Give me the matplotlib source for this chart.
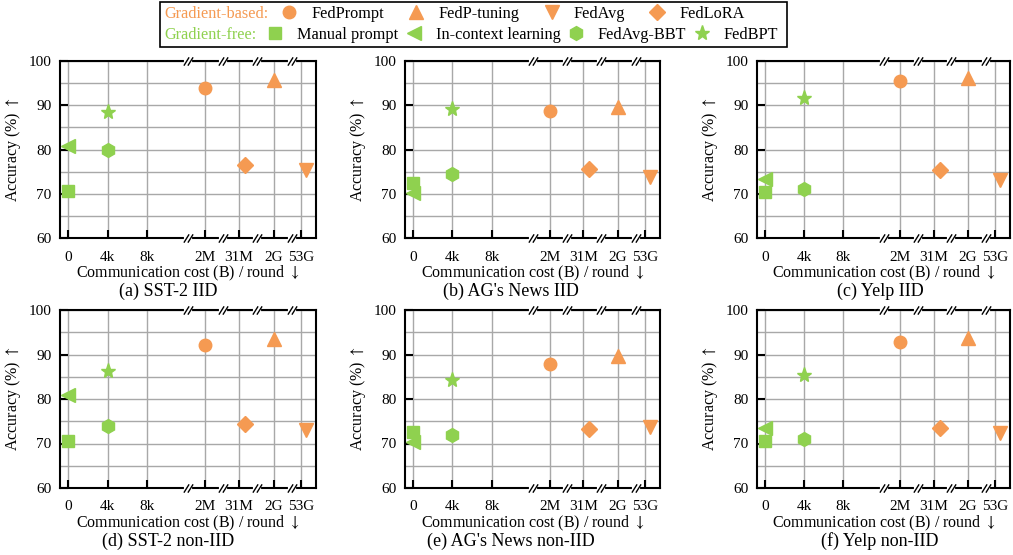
import matplotlib.pyplot as plt
from matplotlib.lines import Line2D
from matplotlib.patches import Rectangle

plt.rcParams['font.family'] = ['Liberation Serif', 'DejaVu Serif']
plt.rcParams['mathtext.fontset'] = 'stix'

orange = '#F59A52'
green = '#8FD14F'

# broken x axis: tick label -> slot on the axis
tick_labels = ['0', '4k', '8k', '2M', '31M', '2G', '53G']
tick_pos = [0, 1, 2, 3.48, 4.34, 5.22, 5.92]
breaks = [3.05, 3.93, 4.79, 5.68]

methods = ['FedPrompt', 'FedP-tuning', 'FedAvg', 'FedLoRA',
           'Manual prompt', 'In-context learning', 'FedAvg-BBT', 'FedBPT']
method_x = [3.48, 5.22, 6.05, 4.50, 0, 0, 1, 1]
markers = ['o', '^', 'v', 'D', 's', '<', 'h', '*']
colors = [orange] * 4 + [green] * 4
sizes = [9, 10, 10, 8, 9, 10, 10, 11]

captions = ['(a) SST-2 IID', "(b) AG's News IID", '(c) Yelp IID',
            '(d) SST-2 non-IID', "(e) AG's News non-IID", '(f) Yelp non-IID']

acc_sst2_iid = [93.8, 95.8, 75.4, 76.4, 70.6, 80.8, 80.0, 88.5]
acc_ag_iid = [88.6, 89.7, 73.8, 75.7, 72.4, 70.2, 74.4, 89.1]
acc_yelp_iid = [95.5, 96.1, 73.1, 75.3, 70.5, 73.4, 71.1, 91.6]
acc_sst2_noniid = [92.2, 93.5, 73.0, 74.4, 70.6, 80.9, 74.0, 86.2]
acc_ag_noniid = [87.9, 89.6, 73.8, 73.3, 72.5, 70.3, 71.9, 84.3]
acc_yelp_noniid = [92.8, 93.7, 72.3, 73.5, 70.6, 73.4, 70.9, 85.5]
all_acc = [acc_sst2_iid, acc_ag_iid, acc_yelp_iid,
           acc_sst2_noniid, acc_ag_noniid, acc_yelp_noniid]

W, H = 1013, 555
fig = plt.figure(figsize=(W / 100, H / 100), dpi=100)

# axes boxes in pixels: left, top, right, bottom
lefts = [60, 405, 757]
rights = [316, 660, 1010]
tops = [61, 310]
bottoms = [238, 488]
cap_x = [168, 511, 880]
cap_y = [291.5, 541.5]

for k, acc in enumerate(all_acc):
    r, c = divmod(k, 3)
    ax = fig.add_axes([lefts[c] / W, 1 - bottoms[r] / H,
                       (rights[c] - lefts[c]) / W, (bottoms[r] - tops[r]) / H])
    for i in range(len(methods)):
        ax.plot(method_x[i], acc[i], ls='none', marker=markers[i], ms=sizes[i],
                color=colors[i], mec=colors[i], zorder=4, clip_on=False)
    ax.set_xlim(-0.21, 6.30)
    ax.set_ylim(60, 100)
    ax.set_xticks(tick_pos)
    ax.set_xticklabels(tick_labels)
    ax.set_yticks([60, 70, 80, 90, 100])
    ax.set_yticks([65, 75, 85, 95], minor=True)
    ax.grid(True, which='both', color='#a8a8a8', lw=1, zorder=0)
    ax.tick_params(axis='both', which='major', direction='in', length=6, width=1.5,
                   labelsize=11)
    ax.tick_params(axis='x', which='major', pad=9)
    ax.tick_params(axis='y', which='major', pad=6)
    ax.tick_params(axis='y', which='minor', length=0)
    for s in ax.spines.values():
        s.set_linewidth(1.5)
    ax.set_xlabel('Communication cost (B) / round $\\downarrow$', fontsize=11.5, labelpad=0)
    ax.set_ylabel('Accuracy (%) $\\uparrow$', fontsize=11.5, labelpad=4)
    trans = ax.get_xaxis_transform()
    for b in breaks:
        for y in (0, 1):
            ax.plot([b - 0.05, b + 0.05], [y, y], color='white', lw=3,
                    transform=trans, clip_on=False, zorder=5)
            ax.plot([b - 0.05, b + 0.05], [y, y], ls='none',
                    marker=[(-1, -1.6), (1, 1.6)], ms=6, mec='black', mew=1,
                    transform=trans, clip_on=False, zorder=6)
    fig.text(cap_x[c] / W, 1 - cap_y[r] / H, captions[k], fontsize=13,
             ha='center', va='center')

# legend
fig.add_artist(Rectangle((160 / W, 1 - 47 / H), 627 / W, 45 / H, transform=fig.transFigure,
                         fill=False, ec='black', lw=1.2))
fig.text(164 / W, 1 - 14 / H, 'Gradient-based:', color=orange, fontsize=11.7, va='center')
fig.text(164 / W, 1 - 35 / H, 'Gradient-free:', color=green, fontsize=11.7, va='center')

def handles(idx):
    return [Line2D([], [], ls='none', marker=markers[i], ms=sizes[i],
                   color=colors[i]) for i in idx]

fig.legend(handles([0, 1, 2, 3]), methods[:4], ncol=4, frameon=False, fontsize=11.7,
           loc='center left', bbox_to_anchor=(281 / W, 1 - 14 / H), borderpad=0,
           borderaxespad=0, handlelength=1, handletextpad=0.85, columnspacing=1.5)
fig.legend(handles([4, 5, 6, 7]), methods[4:], ncol=4, frameon=False, fontsize=11.7,
           loc='center left', bbox_to_anchor=(267 / W, 1 - 35 / H), borderpad=0,
           borderaxespad=0, handlelength=1, handletextpad=0.85, columnspacing=0.45)

fig.savefig('out.png', dpi=100)
